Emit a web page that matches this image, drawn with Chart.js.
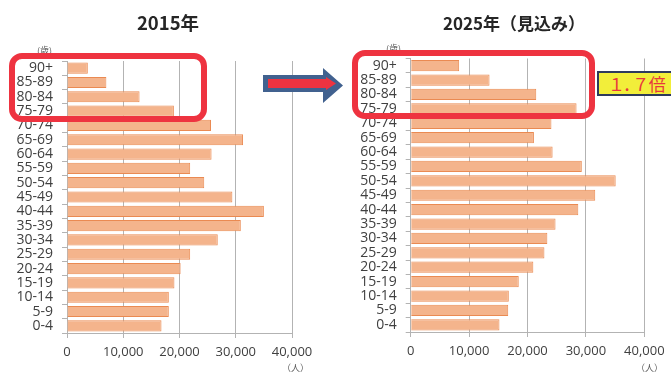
<!DOCTYPE html>
<html>
<head>
<meta charset="utf-8">
<script src="https://cdn.jsdelivr.net/npm/chart.js@4"></script>
<style>
  body { margin: 0; background: #fff; }
  #page { position: relative; width: 671px; height: 374px; overflow: hidden; font-family: 'Open Sans', sans-serif; }
  .box { position: absolute; top: 0; height: 374px; }
  .title { position: absolute; top: 10px; font: bold 17px 'Noto Sans CJK JP', sans-serif; color: #262626; transform: translateX(-50%); white-space: nowrap; }
  .unit { position: absolute; font: 9px 'Noto Sans CJK JP', sans-serif; color: #595959; }
  .frame { position: absolute; border: 6px solid #EE3340; border-radius: 13px; box-sizing: border-box; }
  #ratio { position: absolute; left: 597px; top: 71px; width: 90px; height: 25px; box-sizing: border-box;
    background: #F2EE3A; border: 2px solid #2E3A5C; color: #E8383D;
    font: 17px 'Noto Sans CJK JP', sans-serif; line-height: 21px; padding-left: 11px;
    font-feature-settings: "palt"; letter-spacing: 1.5px; }
</style>
</head>
<body>
<div id="page">
  <div class="box" style="left:0;width:335px"><canvas id="chart2015"></canvas></div>
  <div class="box" style="left:335px;width:336px"><canvas id="chart2025"></canvas></div>

  <div class="title" style="left:168px;font-size:18.5px;top:9px">2015年</div>
  <div class="title" style="left:514px">2025年（見込み）</div>

  <div class="unit" style="left:37px;top:44px">(歳)</div>
  <div class="unit" style="left:386px;top:42px">(歳)</div>
  <div class="unit" style="left:282px;top:361px">（人）</div>
  <div class="unit" style="left:636px;top:361px">（人）</div>

  <div class="frame" style="left:9px;top:53px;width:198px;height:69px"></div>
  <div class="frame" style="left:352px;top:50px;width:243px;height:69px"></div>

  <svg style="position:absolute;left:0;top:0" width="671" height="374">
    <polygon points="263,75 323,75 323,68 343,85.5 323,103 323,92 263,92" fill="#41618F"/>
    <polygon points="268,79 326,79 326,77 336,83.5 326,90 326,88 268,88" fill="#EE3340"/>
  </svg>

  <div id="ratio">１．７倍</div>
</div>

<script>
const ageGroups = ["90+", "85-89", "80-84", "75-79", "70-74", "65-69", "60-64", "55-59", "50-54",
  "45-49", "40-44", "35-39", "30-34", "25-29", "20-24", "15-19", "10-14", "5-9", "0-4"];
const pop2015 = [3700, 7000, 12900, 19000, 25600, 31300, 25700, 21900, 24400,
  29400, 35000, 30900, 26800, 21900, 20200, 19100, 18100, 18100, 16800];
const pop2025 = [8300, 13500, 21500, 28400, 24100, 21100, 24300, 29300, 35100,
  31600, 28700, 24800, 23400, 22900, 21000, 18500, 16800, 16700, 15200];
const xTicks = [0, 10000, 20000, 30000, 40000];

Chart.defaults.font.family = "'Open Sans', sans-serif";
Chart.defaults.color = "#404040";

function makeChart(id, values, pad, yWidth, xHeight) {
  const ctx = document.getElementById(id).getContext("2d");
  return new Chart(ctx, {
    type: "bar",
    data: {
      labels: ageGroups,
      datasets: [{
        data: values,
        backgroundColor: "#F4B48C",
        borderColor: "#EA8A52",
        borderWidth: 1,
        categoryPercentage: 0.78,
        barPercentage: 1,
      }],
    },
    options: {
      indexAxis: "y",
      responsive: true,
      maintainAspectRatio: false,
      animation: false,
      layout: { padding: pad },
      plugins: { legend: { display: false }, tooltip: { enabled: false } },
      scales: {
        x: {
          min: xTicks[0],
          max: xTicks[xTicks.length - 1],
          afterBuildTicks: (s) => { s.ticks = xTicks.map((v) => ({ value: v })); },
          afterFit: (s) => { s.height = xHeight; },
          ticks: { font: { size: 13 }, padding: 6, color: "#404040" },
          grid: { color: "#B3B3B3", tickLength: 5 },
          border: { color: "#B3B3B3" },
        },
        y: {
          afterFit: (s) => { s.width = yWidth; },
          ticks: { font: { size: 14 }, padding: 9, color: "#404040", autoSkip: false },
          grid: { drawOnChartArea: false, color: "#B3B3B3", tickLength: 5 },
          border: { color: "#B3B3B3" },
        },
      },
    },
  });
}

makeChart("chart2015", pop2015, { top: 61, right: 43, left: 0, bottom: 0 }, 67, 41);
makeChart("chart2025", pop2025, { top: 58.5, right: 26.7, left: 0, bottom: 0 }, 75.7, 42);
</script>
</body>
</html>
